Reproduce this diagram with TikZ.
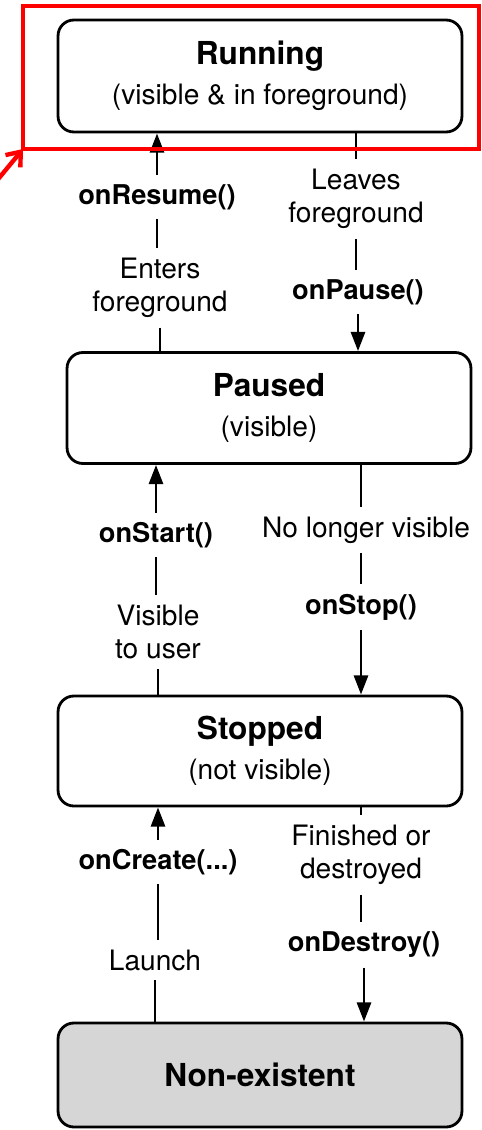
\documentclass[tikz,border=0pt]{standalone}
\usepackage{fontspec}
\setmainfont{TeX Gyre Heros}
\usetikzlibrary{arrows.meta}

\newcommand{\sttitle}[1]{{\bfseries\fontsize{18}{22.5}\selectfont #1}}

\begin{document}
\begin{tikzpicture}[x=0.02cm,y=-0.02cm,
    stbox/.style={draw,line width=1.6pt,rounded corners=9pt,minimum width=8.08cm,align=center,font=\fontsize{16}{22.5}\selectfont},
    call/.style={font=\bfseries\fontsize{15.5}{19}\selectfont,inner sep=0pt,outer sep=5.5pt},
    note/.style={align=center,font=\fontsize{16}{19}\selectfont,inner sep=0pt,outer sep=5.5pt},
    link/.style={line width=1.7pt},
    go/.style={line width=1.7pt,-{Triangle[length=11pt,width=8pt]}}]
    \useasboundingbox(0,0)rectangle(481,1130);
    % states
    \node[stbox,minimum height=2.24cm](run)at(260,76){\sttitle{Running}\\(visible \& in foreground)};
    \node[stbox,minimum height=2.22cm](paused)at(269,408){\sttitle{Paused}\\(visible)};
    \node[stbox,minimum height=2.2cm](stopped)at(260,751){\sttitle{Stopped}\\(not visible)};
    \node[stbox,minimum height=2.08cm,fill=black!16](gone)at(260,1075){\sttitle{Non-existent}};
    % labels
    \node[call](resume)at(157,197){onResume()};
    \node[note](enters)at(160,288){Enters\\foreground};
    \node[note](leaves)at(356,199){Leaves\\foreground};
    \node[call](pause)at(358,292){onPause()};
    \node[call](start)at(156,535){onStart()};
    \node[note](visible)at(158,632){Visible\\to user};
    \node[note](nolonger)at(366,530){No longer visible};
    \node[call](stop)at(361,607){onStop()};
    \node[call](create)at(158,862){onCreate(...)};
    \node[note](launch)at(155,960){Launch};
    \node[note](finished)at(361,855){Finished or\\destroyed};
    \node[call](destroy)at(364,945){onDestroy()};
    % running <-> paused
    \draw[go](resume.north)--(resume.north|-run.south);
    \draw[link](resume.south)--(resume.south|-enters.north);
    \draw[link](enters.south)--(enters.south|-paused.north);
    \draw[link](leaves.north|-run.south)--(leaves.north);
    \draw[link](leaves.south)--(leaves.south|-pause.north);
    \draw[go](pause.south)--(pause.south|-paused.north);
    % paused <-> stopped
    \draw[go](start.north)--(start.north|-paused.south);
    \draw[link](start.south)--(start.south|-visible.north);
    \draw[link](visible.south)--(visible.south|-stopped.north);
    \draw[link](stop.north|-paused.south)--(stop.north|-nolonger.north);
    \draw[link](stop.north|-nolonger.south)--(stop.north);
    \draw[go](stop.south)--(stop.south|-stopped.north);
    % stopped <-> non-existent
    \draw[go](create.north)--(create.north|-stopped.south);
    \draw[link](create.south)--(create.south|-launch.north);
    \draw[link](launch.south)--(launch.south|-gone.north);
    \draw[link](finished.north|-stopped.south)--(finished.north);
    \draw[link](finished.south)--(finished.south|-destroy.north);
    \draw[go](destroy.south)--(destroy.south|-gone.north);
    % highlight
    \coordinate(hl)at(23,149);
    \draw[red,line width=2.5pt](23,6)rectangle(479,149);
    \draw[red,line width=2.5pt,-{Straight Barb[length=7pt,width=11pt]}](-15,195)--(hl);
\end{tikzpicture}
\end{document}
